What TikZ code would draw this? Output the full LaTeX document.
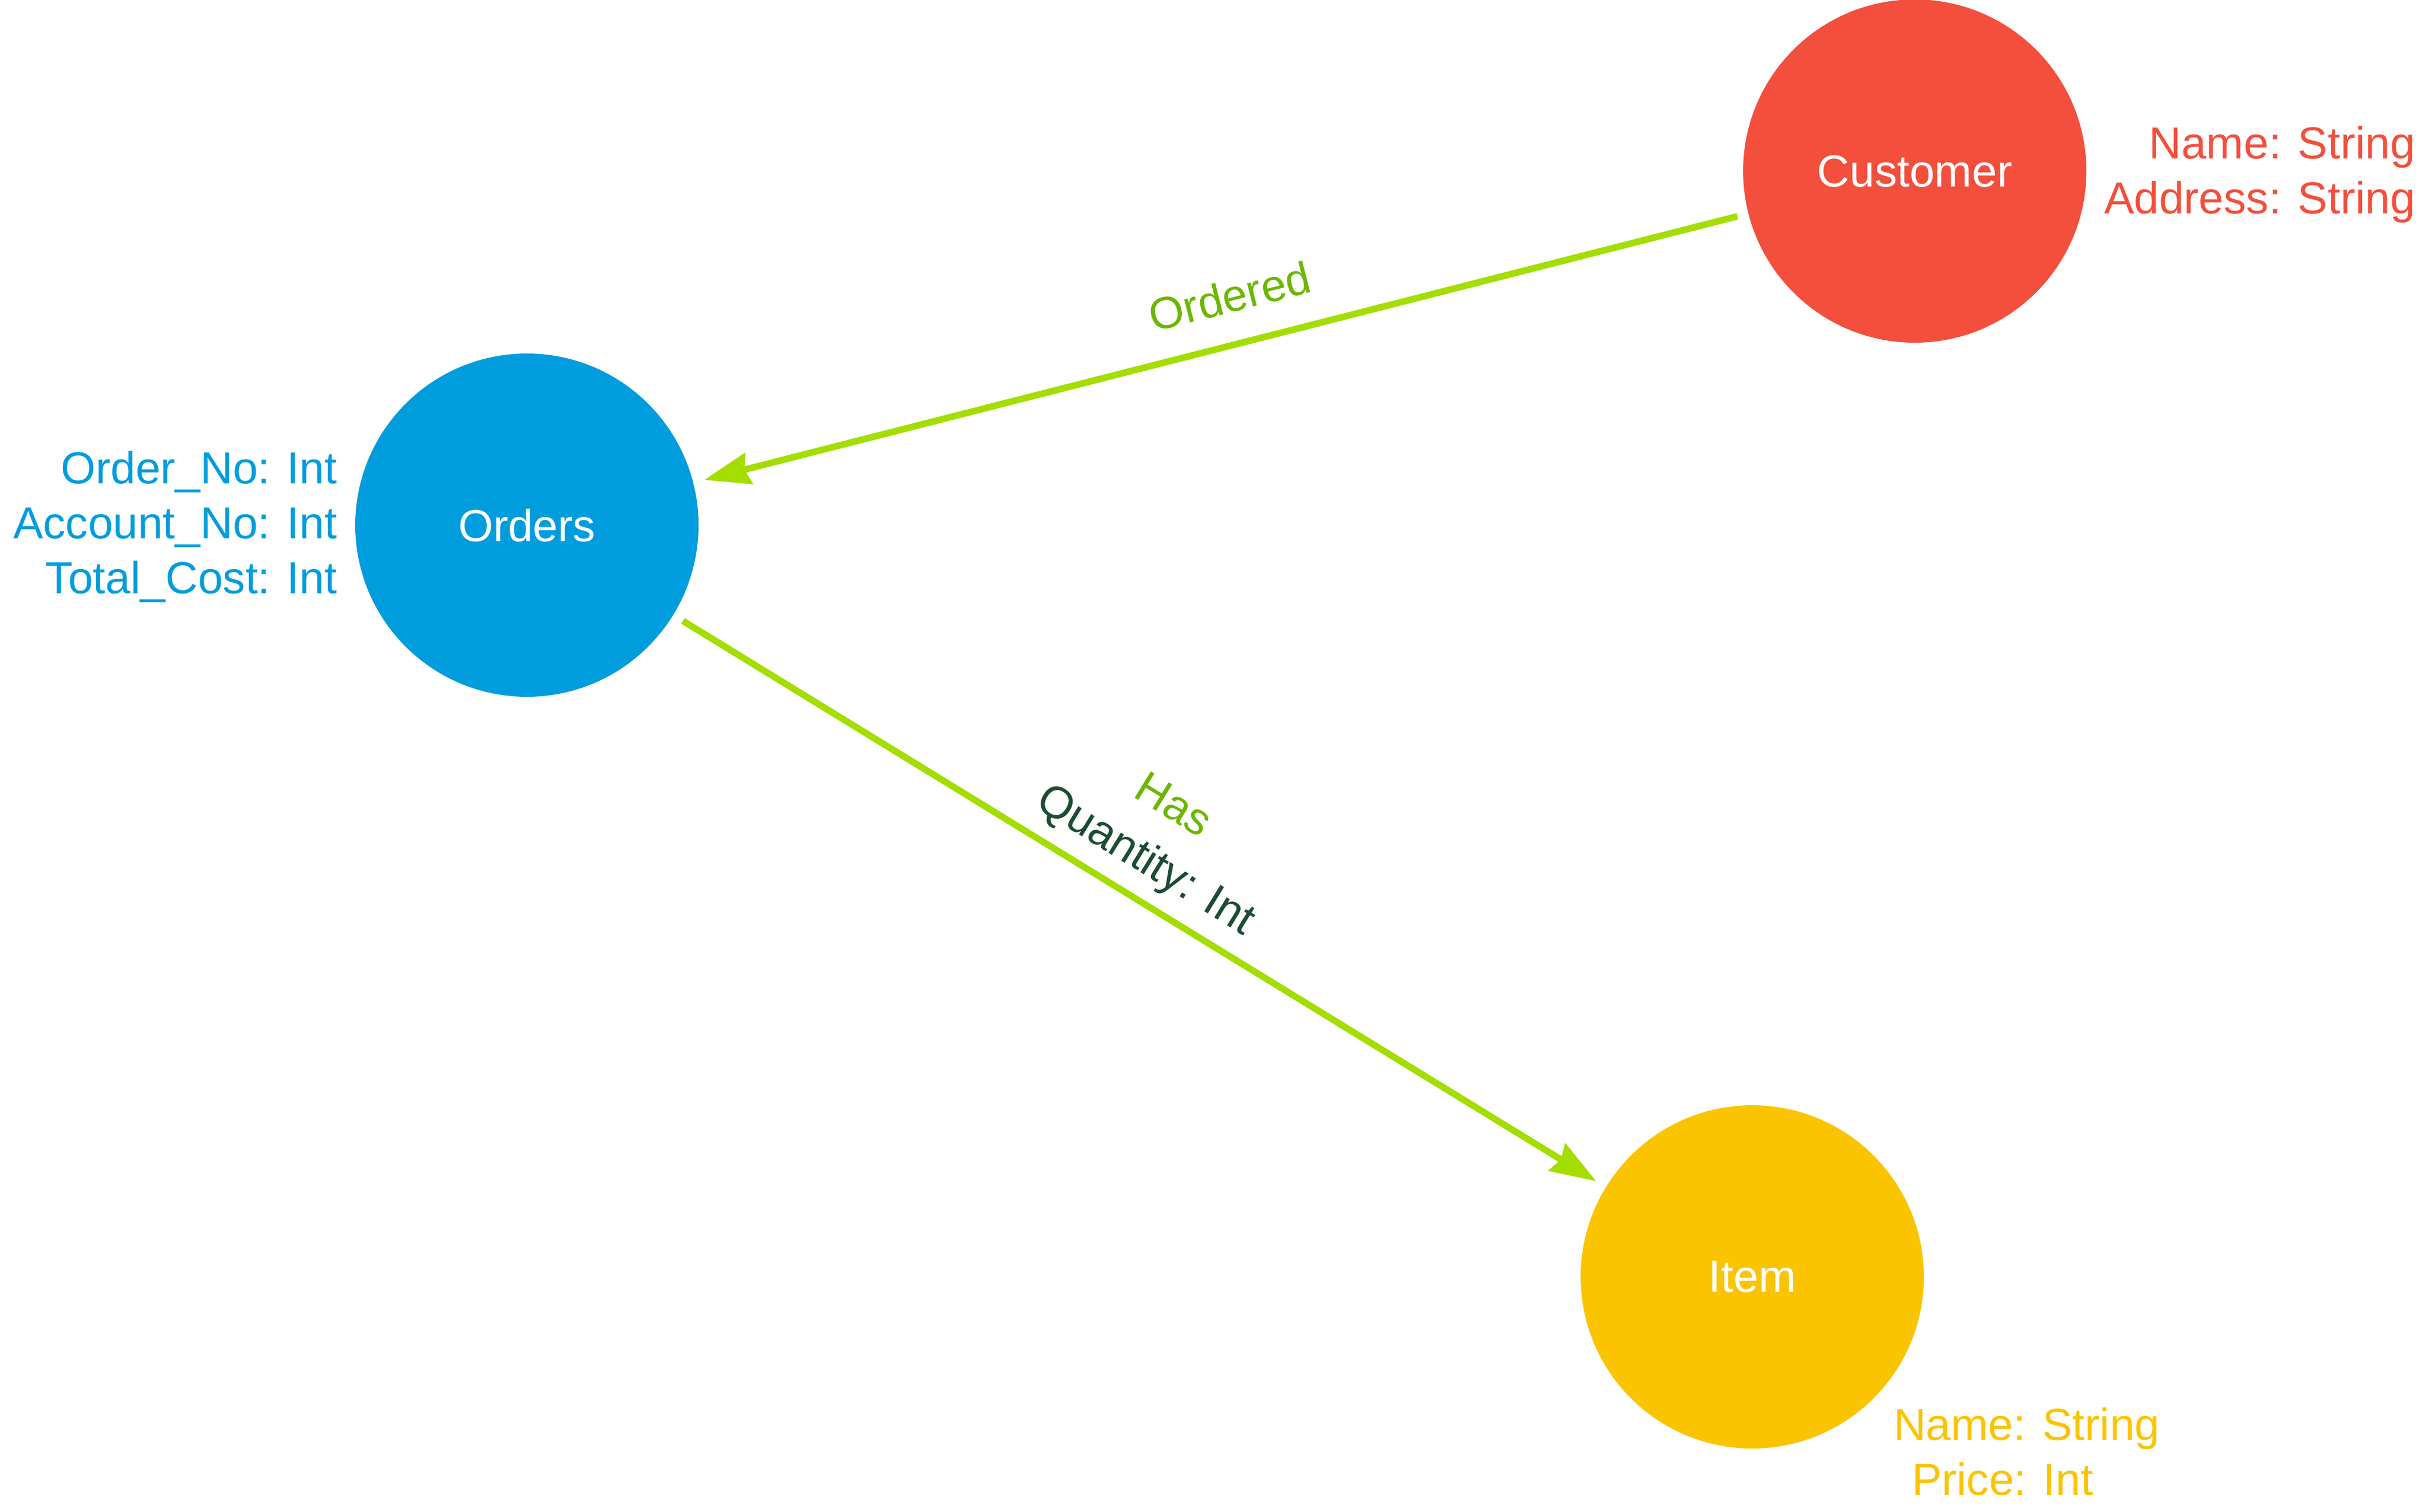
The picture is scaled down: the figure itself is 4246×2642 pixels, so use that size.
\documentclass[tikz,border=0pt]{standalone}
\usepackage{fontspec}
\setmainfont{Liberation Sans}
\usetikzlibrary{arrows.meta,calc}
\definecolor{cCust}{HTML}{F44F3C}
\definecolor{cOrd}{HTML}{009DDE}
\definecolor{cItem}{HTML}{FBC400}
\definecolor{cRel}{HTML}{A4DD00}
\definecolor{cRelName}{HTML}{6CB800}
\definecolor{cRelProp}{HTML}{1B4D33}
\tikzset{
	every node/.style={font=\fontsize{15.7pt}{19.2pt}\selectfont},
	entity/.style={circle, minimum size=120pt, inner sep=0pt, outer sep=4pt, text=white},
	attrs/.style={inner sep=0pt},
	rel/.style={draw=cRel, line width=2.3pt},
	relto/.style={-{Stealth[length=16pt, width=11pt, inset=1.5pt]}},
	relfrom/.style={{Stealth[length=16pt, width=11pt, inset=1.5pt]}-},
}

\begin{document}
\begin{tikzpicture}[x=0.2pt, y=-0.2pt]
		%%%%% START %%%%%
		\useasboundingbox (0, 0) rectangle (4246, 2642);
		
		\node[entity, fill=cCust] (cust) at (3347, 299) {Customer};
		\node[entity, fill=cOrd] (ord) at (921, 918) {Orders};
		\node[entity, fill=cItem] (item) at (3063, 2232) {Item};
		
		\node[attrs, anchor=west, align=right, text=cCust] (custAttrs) at (3677, 305) {Name: String\\Address: String};
		\node[attrs, anchor=east, align=right, text=cOrd] (ordAttrs) at (590, 921) {Order\_No: Int\\Account\_No: Int\\Total\_Cost: Int};
		\node[attrs, anchor=north west, align=left, text=cItem] (itemAttrs) at (3309, 2460) {Name: String\\\hspace*{6.4pt}Price: Int};
		
		\draw[rel, relfrom] (ord) -- node[pos=0.52, sloped, yshift=16.8pt, text=cRelName] (lblOrdered) {Ordered} (cust);
		\draw[rel, relto] (ord) -- node[pos=0.48, sloped, yshift=35.2pt, text=cRelName] (lblHas) {Has}
			node[pos=0.485, sloped, yshift=12.8pt, text=cRelProp] (lblQty) {Quantity: Int} (item);
		%%%%% END %%%%%
\end{tikzpicture}
\end{document}
